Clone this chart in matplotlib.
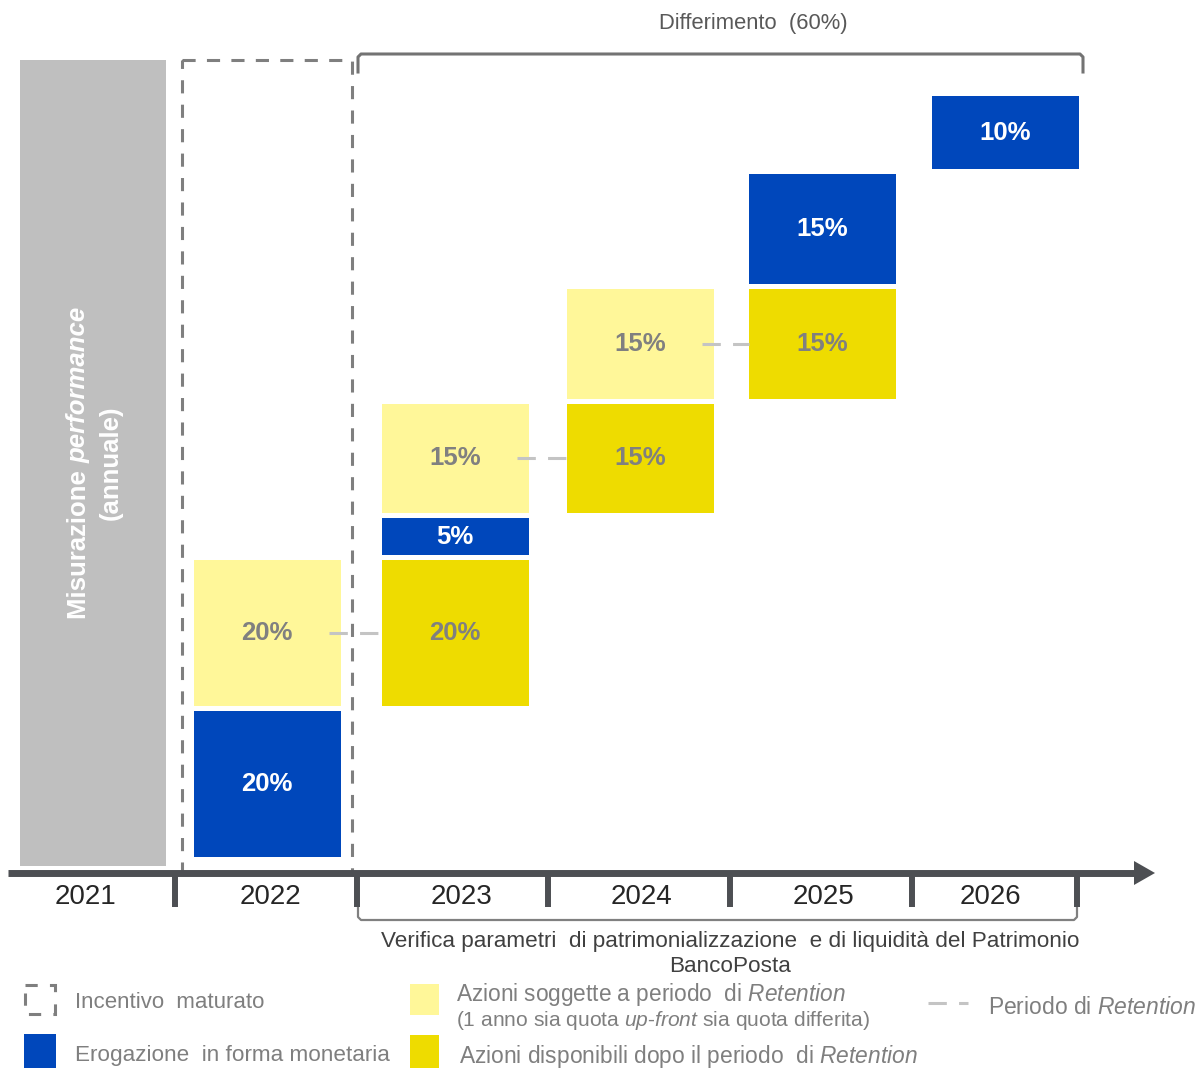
import numpy as np
import matplotlib.pyplot as plt
from matplotlib import transforms
from matplotlib.patches import Rectangle, Polygon
from matplotlib.lines import Line2D

plt.rcParams['font.family'] = ['Liberation Sans', 'DejaVu Sans']
plt.rcParams['mathtext.fontset'] = 'custom'
plt.rcParams['mathtext.rm'] = 'Liberation Sans'
plt.rcParams['mathtext.it'] = 'Liberation Sans:italic'

# data
years = ['2021', '2022', '2023', '2024', '2025', '2026']
seg_year = ['2022', '2022', '2023', '2023', '2023', '2024', '2024', '2025', '2025', '2026']
seg_kind = ['cash', 'retention', 'free', 'cash', 'retention', 'free', 'retention', 'free', 'cash', 'cash']
seg_pct = [20, 20, 20, 5, 15, 15, 15, 15, 15, 10]
deferral_pct = 60

# layout, in pixels of the 1199x1068 canvas
W, H = 1199, 1068
base_px = 857
px_per_pct = 7.3
gap = 0.7
box_x = {'2022': 267, '2023': 455, '2024': 640, '2025': 822, '2026': 1005}
box_w = 147
label_x = [85, 270, 461, 641, 823, 990]
sep_x = [175, 357, 548, 730, 912, 1077]

colors = {'cash': '#0047BB', 'retention': '#FFF799', 'free': '#EEDC00'}
label_col = {'cash': 'white', 'retention': '#808080', 'free': '#808080'}
axis_col = '#4D4F53'

fig = plt.figure(figsize=(W / 100, H / 100), dpi=100)
ax = fig.add_axes([0, 0, 1, 1])
ax.set_xlim(0, W)
ax.set_ylim(-(H - base_px) / px_per_pct, base_px / px_per_pct)
ax.axis('off')
# pixel coordinates, origin top-left
PX = transforms.Affine2D().scale(1 / W, -1 / H).translate(0, 1) + fig.transFigure

# stack the segments: released shares start where last year's retained ones sat
bottoms = []
top = -gap
last_ret = 0
for kind, pct in zip(seg_kind, seg_pct):
    b = last_ret if kind == 'free' else top + gap
    if kind == 'retention':
        last_ret = b
    bottoms.append(b)
    top = b + pct

for yr, kind, pct, b in zip(seg_year, seg_kind, seg_pct, bottoms):
    ax.bar(box_x[yr], pct, width=box_w, bottom=b, color=colors[kind], linewidth=0, zorder=2)
    ax.text(box_x[yr], b + pct / 2, f'{pct}%', ha='center', va='center', fontsize=18.5,
            fontweight='bold', color=label_col[kind], zorder=4)

# retention period dashes
for i, kind in enumerate(seg_kind):
    if kind != 'retention':
        continue
    nxt = years[years.index(seg_year[i]) + 1]
    y = bottoms[i] + seg_pct[i] / 2
    ax.plot([box_x[seg_year[i]] + box_w / 2 - 12, box_x[nxt] - box_w / 2], [y, y],
            color='#C4C4C4', lw=2.2, linestyle=(0, (6, 4)), zorder=3)

# performance year column
ax.add_patch(Rectangle((20, 60), 146, 806, transform=PX, color='#BFBFBF', lw=0, zorder=1))
t1 = ax.text(79, 619, 'Misurazione ', transform=PX, rotation=90, ha='center', va='bottom',
             fontsize=18.5, fontweight='bold', color='white', zorder=4)
ax.annotate('performance', xy=(0.5, 1), xycoords=t1, rotation=90, ha='center', va='bottom',
            fontsize=18.5, fontweight='bold', fontstyle='italic', color='white', zorder=4)
ax.text(111, 463, '(annuale)', transform=PX, rotation=90, ha='center', va='center',
        fontsize=18.5, fontweight='bold', color='white', zorder=4)

# accrued incentive box
ax.add_patch(Rectangle((182, 60), 170, 812, transform=PX, fill=False, edgecolor='#7F7F7F',
                       lw=2.2, linestyle=(0, (4.3, 3.7)), zorder=3))

# time axis
ax.add_line(Line2D([8, 1137], [873, 873], transform=PX, color=axis_col, lw=5,
                   solid_capstyle='butt', zorder=5))
ax.add_patch(Polygon([(1134, 861), (1155, 873), (1134, 885)], closed=True, transform=PX,
                     color=axis_col, lw=0, zorder=5))
for x in sep_x:
    ax.add_line(Line2D([x, x], [873, 907], transform=PX, color=axis_col, lw=4.3,
                       solid_capstyle='butt', zorder=5))
for x, yr in zip(label_x, years):
    ax.text(x, 897, yr, transform=PX, ha='center', va='center', fontsize=20, color='#262626')

# deferral brace
ax.add_line(Line2D([358, 358, 361, 1080, 1083, 1083], [72, 57, 54, 54, 57, 72], transform=PX,
                   color='#737373', lw=2.2))
ax.text(753, 24, f'Differimento  ({deferral_pct}%)', transform=PX, ha='center', va='center',
        fontsize=15.8, color='#595959')

# verification bracket
ax.add_line(Line2D([358, 358, 361, 1074, 1077, 1077], [907, 917, 920, 920, 917, 907],
                   transform=PX, color='#808080', lw=1.6))
ax.text(730, 954, 'Verifica parametri  di patrimonializzazione  e di liquidità del Patrimonio\nBancoPosta',
        transform=PX, ha='center', va='center', fontsize=16.2, color='#404040', linespacing=1.2)

# legend
leg_col = '#7F7F7F'
ax.add_patch(Rectangle((25, 985), 30, 29, transform=PX, fill=False, edgecolor='#7F7F7F',
                       lw=2.2, linestyle=(0, (4, 4))))
ax.text(75, 1003, 'Incentivo  maturato', transform=PX, va='center', fontsize=16, color=leg_col)
ax.add_patch(Rectangle((24, 1034), 32, 34, transform=PX, color=colors['cash'], lw=0))
ax.text(75, 1055, 'Erogazione  in forma monetaria', transform=PX, va='center', fontsize=16.2,
        color=leg_col)
ax.add_patch(Rectangle((410, 984), 29, 31, transform=PX, color=colors['retention'], lw=0))
ax.text(456, 994, 'Azioni soggette a periodo  di $\\mathit{Retention}$', transform=PX,
        va='center', fontsize=16.3, color=leg_col)
ax.text(456, 1020, '(1 anno sia quota $\\mathit{up}$-$\\mathit{front}$ sia quota differita)',
        transform=PX, va='center', fontsize=15.1, color=leg_col)
ax.add_patch(Rectangle((410, 1035), 29, 33, transform=PX, color=colors['free'], lw=0))
ax.text(459, 1056, 'Azioni disponibili dopo il periodo  di $\\mathit{Retention}$', transform=PX,
        va='center', fontsize=16.4, color=leg_col)
ax.add_line(Line2D([928, 968], [1003, 1003], transform=PX, color='#C4C4C4', lw=2.2,
                   linestyle=(0, (6, 4))))
ax.text(988, 1008, 'Periodo di $\\mathit{Retention}$', transform=PX, va='center', fontsize=16.5,
        color=leg_col)

fig.savefig('out.png', dpi=100)
